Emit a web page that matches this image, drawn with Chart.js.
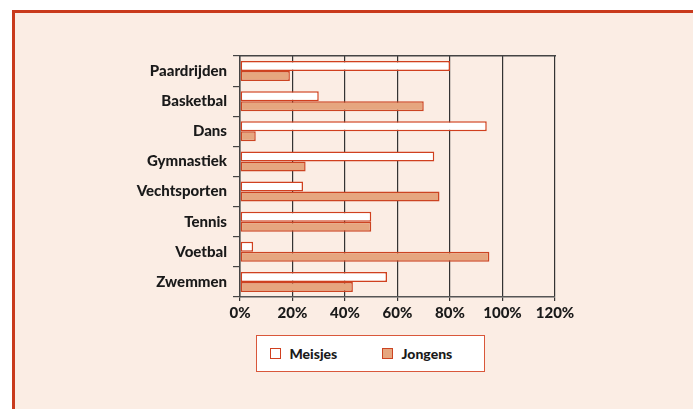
<!DOCTYPE html>
<html><head><meta charset="utf-8">
<script src="https://cdn.jsdelivr.net/npm/chart.js@4/dist/chart.umd.min.js"></script>
<style>
html,body{margin:0;padding:0;background:#fff;width:693px;height:409px;overflow:hidden;}
#frame{position:absolute;left:12px;top:10px;width:700px;height:420px;background:#FBEDE4;border-top:3px solid #C93A1C;border-left:3px solid #C93A1C;box-sizing:border-box;}
#c{position:absolute;left:0;top:0;}
#legend{position:absolute;left:256px;top:335px;width:229px;height:37px;box-sizing:border-box;background:#fff;border:1.5px solid #D9573A;font:900 14px Lato, sans-serif;color:#1a1a1a;}
.item{position:absolute;top:0;height:100%;display:flex;align-items:center;}
.sw{width:11px;height:11px;box-sizing:border-box;border:1.5px solid #C9462A;margin-right:9px;}
</style>
</head><body>
<div id="frame"></div>
<canvas id="c" width="693" height="409"></canvas>
<div id="legend"></div>
<script>
const categories = ['Paardrijden','Basketbal','Dans','Gymnastiek','Vechtsporten','Tennis','Voetbal','Zwemmen'];
const meisjes = [80, 30, 94, 74, 24, 50, 5, 56];
const jongens = [19, 70, 6, 25, 76, 50, 95, 43];
const xTicks = [0, 20, 40, 60, 80, 100, 120];
const seriesNames = ['Meisjes', 'Jongens'];

const labelFont = {family: 'Lato', weight: '900', size: 15};

const chart = new Chart(document.getElementById('c'), {
  type: 'bar',
  data: {
    labels: categories,
    datasets: [
      {label: seriesNames[0], data: meisjes, backgroundColor: '#FFFFFF', borderColor: '#D0401F', borderWidth: 1.5, borderSkipped: false, categoryPercentage: 0.665, barPercentage: 1},
      {label: seriesNames[1], data: jongens, backgroundColor: '#E6A67F', borderColor: '#CC4422', borderWidth: 1.5, borderSkipped: false, categoryPercentage: 0.665, barPercentage: 1}
    ]
  },
  options: {
    indexAxis: 'y',
    responsive: false,
    animation: false,
    layout: {padding: {top: 56, right: 138, bottom: 82, left: 0}},
    plugins: {legend: {display: false}, tooltip: {enabled: false}},
    scales: {
      x: {
        type: 'linear', position: 'bottom', min: 0, max: 120,
        afterBuildTicks: s => { s.ticks = xTicks.map(v => ({value: v})); },
        afterFit: s => { s.height = 30; },
        ticks: {callback: v => v + '%', font: labelFont, color: '#1a1a1a', padding: 3},
        grid: {color: '#333333', lineWidth: 1.2, tickLength: 4},
        border: {color: '#555555', width: 1.5}
      },
      x2: {
        type: 'linear', position: 'top', min: 0, max: 120,
        afterFit: s => { s.height = 0; },
        ticks: {display: false},
        grid: {display: false},
        border: {display: true, color: '#444444', width: 1.5}
      },
      y: {
        type: 'category', offset: true,
        afterFit: s => { s.width = 240; },
        ticks: {font: labelFont, color: '#1a1a1a', padding: 6},
        grid: {offset: true, drawOnChartArea: false, tickLength: 7, color: '#444444', lineWidth: 1.2},
        border: {color: '#444444', width: 1.5}
      }
    }
  }
});

// HTML legend built from the chart's datasets
const lg = document.getElementById('legend');
const offsets = [12.5, 124.5];
chart.data.datasets.forEach((ds, i) => {
  const it = document.createElement('div');
  it.className = 'item';
  it.style.left = offsets[i] + 'px';
  const sw = document.createElement('span');
  sw.className = 'sw';
  sw.style.background = ds.backgroundColor;
  sw.style.borderColor = ds.borderColor;
  const tx = document.createElement('span');
  tx.textContent = ds.label;
  it.appendChild(sw); it.appendChild(tx);
  lg.appendChild(it);
});
</script>
</body></html>
